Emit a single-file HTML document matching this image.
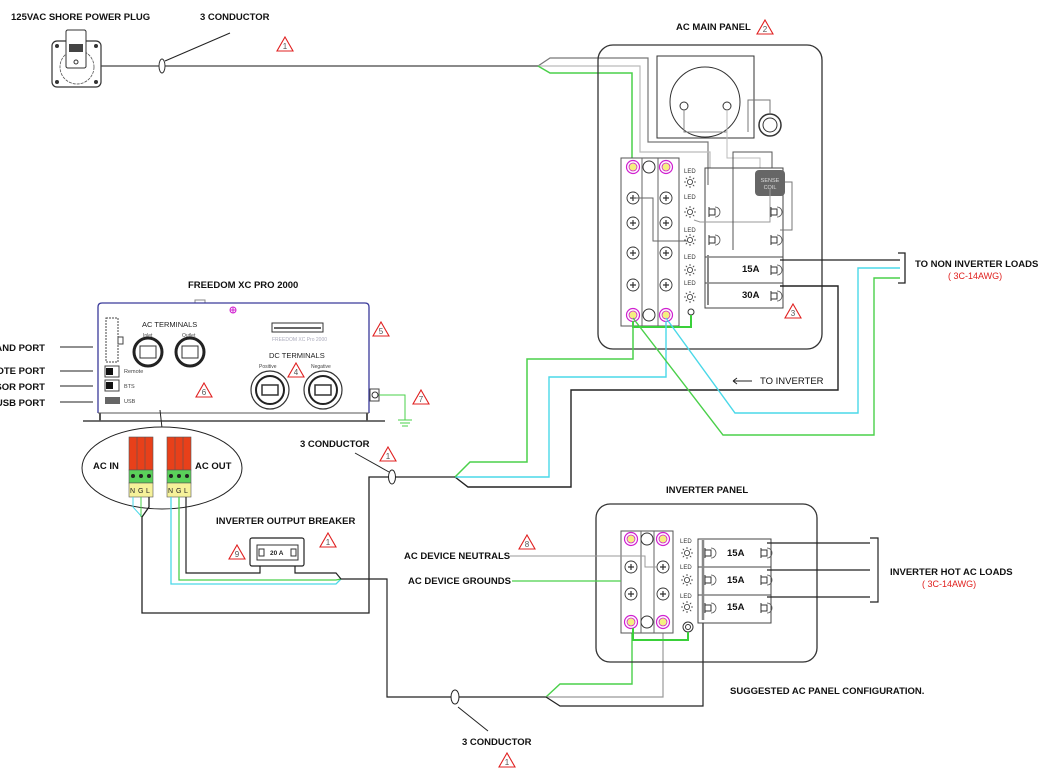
<!DOCTYPE html>
<html><head><meta charset="utf-8"><style>
html,body{margin:0;padding:0;background:#fff;}
svg{display:block;}
text{font-family:"Liberation Sans",Arial,sans-serif;}
.b{font-weight:bold;font-size:9.5px;fill:#111;}
.s{font-size:6px;fill:#333;}
.r{font-size:9px;fill:#e0201e;}
.tri polygon{fill:#fff;stroke:#e02020;stroke-width:1.1;}
.tri text{font-size:8px;fill:#555;text-anchor:middle;}
</style></head><body>
<svg width="1042" height="773" viewBox="0 0 1042 773" xmlns="http://www.w3.org/2000/svg">
<defs>
<g id="sun"><circle r="2.6" fill="none" stroke="#333" stroke-width="0.8"/>
<path d="M0,-6V-4M0,4V6M-6,0H-4M4,0H6M-4.2,-4.2L-2.9,-2.9M2.9,2.9L4.2,4.2M-4.2,4.2L-2.9,2.9M2.9,-2.9L4.2,-4.2" stroke="#333" stroke-width="0.8"/></g>
<g id="pink"><circle r="6.5" fill="#fff" stroke="#d020d0" stroke-width="1.2"/><circle r="4" fill="#f4f080" stroke="#d020d0" stroke-width="0.8"/></g>
<g id="screw"><circle r="6" fill="#fff" stroke="#333" stroke-width="0.9"/><path d="M-3,0H3M0,-3V3" stroke="#333" stroke-width="1.2"/></g>
<g id="brk"><path d="M-4,-5V5M-4,-3H2V3H-4" fill="none" stroke="#333" stroke-width="1"/><path d="M2,-5A5,5 0 0 1 2,5" fill="none" stroke="#555" stroke-width="0.8"/></g>
</defs>

<!-- texts top -->
<text class="b" x="11" y="20">125VAC  SHORE POWER PLUG</text>
<text class="b" x="200" y="20">3 CONDUCTOR</text>
<text class="b" x="676" y="30">AC MAIN PANEL</text>

<!-- shore plug -->
<rect x="52" y="41" width="49" height="46" rx="5" fill="#fff" stroke="#333" stroke-width="1.2"/>
<rect x="66" y="30" width="20" height="38" rx="2" fill="#fff" stroke="#333" stroke-width="1"/>
<circle cx="77" cy="67" r="17" fill="none" stroke="#555" stroke-width="0.8" stroke-dasharray="3,1"/>
<rect x="66" y="30" width="20" height="38" rx="2" fill="#fff" stroke="#333" stroke-width="1"/>
<rect x="69" y="44" width="14" height="8" fill="#444"/>
<circle cx="76" cy="62" r="2" fill="none" stroke="#333"/>
<circle cx="57" cy="46" r="2" fill="#333"/><circle cx="96" cy="46" r="2" fill="#333"/>
<circle cx="57" cy="82" r="2" fill="#333"/><circle cx="96" cy="82" r="2" fill="#333"/>

<!-- top cable -->
<path d="M101,66H538" stroke="#444" stroke-width="1.3" fill="none"/>
<ellipse cx="162" cy="66" rx="3" ry="7" fill="#fff" stroke="#333"/>
<path d="M165,61L230,33" stroke="#222" stroke-width="1"/>
<path d="M538,66L550,58H648V142H708V185" stroke="#777" stroke-width="1.2" fill="none"/>
<path d="M538,66H640V152H710V168" stroke="#bbb" stroke-width="1.2" fill="none"/>
<path d="M538,66L550,73H632V160" stroke="#4ad04a" stroke-width="1.5" fill="none"/>

<!-- main panel -->
<rect x="598" y="45" width="224" height="304" rx="15" fill="none" stroke="#333" stroke-width="1.3"/>
<rect x="657" y="56" width="97" height="82" fill="none" stroke="#333" stroke-width="1"/>
<circle cx="705" cy="102" r="35" fill="none" stroke="#333"/>
<circle cx="684" cy="106" r="4" fill="#fff" stroke="#333"/><circle cx="727" cy="106" r="4" fill="#fff" stroke="#333"/>
<path d="M684,110V132H727V110" fill="none" stroke="#888"/>
<path d="M727,110V158H760V168" fill="none" stroke="#bbb"/>
<path d="M748,132V100H770V113" fill="none" stroke="#777"/>
<circle cx="770" cy="125" r="11" fill="#fff" stroke="#333" stroke-width="1.5"/>
<circle cx="770" cy="125" r="7" fill="none" stroke="#333"/>
<!-- terminal block main -->
<rect x="621" y="158" width="58" height="168" fill="#fff" stroke="#555"/>
<line x1="642" y1="158" x2="642" y2="326" stroke="#666"/><line x1="658" y1="158" x2="658" y2="326" stroke="#666"/>
<use href="#pink" x="633" y="167"/><use href="#pink" x="666" y="167"/>
<circle cx="649" cy="167" r="6" fill="#fff" stroke="#333"/>
<use href="#screw" x="633" y="198"/><use href="#screw" x="666" y="198"/>
<use href="#screw" x="633" y="223"/><use href="#screw" x="666" y="223"/>
<use href="#screw" x="633" y="253"/><use href="#screw" x="666" y="253"/>
<use href="#screw" x="633" y="285"/><use href="#screw" x="666" y="285"/>
<use href="#pink" x="633" y="315"/><use href="#pink" x="666" y="315"/>
<circle cx="649" cy="315" r="6" fill="#fff" stroke="#333"/>
<circle cx="691" cy="312" r="3" fill="#fff" stroke="#333"/>
<path d="M633,321V327H691V315" stroke="#3ad03a" stroke-width="2" fill="none"/>
<path d="M633,198H653V241H688" stroke="#666" fill="none"/>
<g class="s"><text x="684" y="173">LED</text><text x="684" y="199">LED</text><text x="684" y="232">LED</text><text x="684" y="259">LED</text><text x="684" y="285">LED</text></g>
<use href="#sun" x="690" y="182"/><use href="#sun" x="690" y="212"/><use href="#sun" x="690" y="240"/><use href="#sun" x="690" y="270"/><use href="#sun" x="690" y="297"/>
<!-- breakers main -->
<rect x="705" y="168" width="78" height="140" fill="none" stroke="#444"/>
<line x1="705" y1="257" x2="783" y2="257" stroke="#444"/><line x1="705" y1="283" x2="783" y2="283" stroke="#444"/>
<line x1="708" y1="255" x2="708" y2="305" stroke="#888" stroke-width="2"/>
<rect x="755" y="170" width="30" height="26" rx="4" fill="#666"/>
<text x="770" y="182" font-size="5.5" fill="#ddd" text-anchor="middle">SENSE</text>
<text x="770" y="189" font-size="5.5" fill="#ddd" text-anchor="middle">COIL</text>
<use href="#brk" x="713" y="212"/><use href="#brk" x="775" y="212"/>
<use href="#brk" x="713" y="240"/><use href="#brk" x="775" y="240"/>
<use href="#brk" x="775" y="270"/><use href="#brk" x="775" y="296"/>
<path d="M694,220L700,222H770V188" stroke="#999" fill="none"/>
<path d="M785,182H792V230H780" stroke="#777" fill="none"/>
<path d="M733,250V152H772V168" stroke="#555" fill="none"/>
<text class="b" x="742" y="272" font-size="8">15A</text>
<text class="b" x="742" y="298" font-size="8">30A</text>
<path d="M780,260H900" stroke="#222" stroke-width="1.3" fill="none"/>
<path d="M780,286H838V390H571V487H468L455,477" stroke="#222" stroke-width="1.4" fill="none"/>
<path d="M666,321V377H549V477H455" stroke="#4ad8e8" stroke-width="1.4" fill="none"/>
<path d="M633,321V359H527V462H470L455,477" stroke="#4ad04a" stroke-width="1.5" fill="none"/>
<path d="M633,318L723,435H874V278H900" stroke="#4ad04a" stroke-width="1.4" fill="none"/>
<path d="M666,318L735,413H858V268H900" stroke="#4ad8e8" stroke-width="1.4" fill="none"/>
<path d="M898,253H905V283H898" stroke="#222" stroke-width="1.3" fill="none"/>
<text class="b" x="915" y="267">TO NON INVERTER LOADS</text>
<text class="r" x="948" y="279">( 3C-14AWG)</text>
<path d="M733,381H752M733,381L737,378M733,381L737,384" stroke="#222" fill="none"/>
<text class="b" x="760" y="384" style="font-weight:normal">TO INVERTER</text>

<!-- inverter -->
<text class="b" x="188" y="288">FREEDOM XC PRO 2000</text>
<rect x="195" y="300" width="10" height="4" fill="#fff" stroke="#888"/>
<path d="M98,413V307Q98,303 102,303H365Q369,303 369,307V413" fill="#fff" stroke="#3a3a9a" stroke-width="1.3"/>
<line x1="83" y1="421" x2="385" y2="421" stroke="#444" stroke-width="1.5"/>
<line x1="98" y1="413" x2="369" y2="413" stroke="#555"/>
<path d="M100,413V421M367,413V421" stroke="#555" stroke-width="2"/>
<circle cx="233" cy="310" r="3" fill="none" stroke="#d020d0"/><path d="M230,310H236M233,307V313" stroke="#d020d0"/>
<rect x="106" y="318" width="12" height="44" fill="#fff" stroke="#444" stroke-dasharray="2,1"/>
<rect x="118" y="337" width="5" height="7" fill="none" stroke="#444"/>
<rect x="105" y="366" width="14" height="11" fill="#fff" stroke="#444"/><rect x="106" y="368" width="7" height="7" fill="#111"/>
<rect x="105" y="380" width="14" height="11" fill="#fff" stroke="#444"/><rect x="106" y="382" width="7" height="7" fill="#111"/>
<rect x="105" y="397" width="15" height="7" fill="#666"/>
<text x="124" y="373" font-size="5.5" fill="#444">Remote</text>
<text x="124" y="388" font-size="5.5" fill="#444">BTS</text>
<text x="124" y="403" font-size="5.5" fill="#444">USB</text>
<text x="142" y="327" font-size="7.5" fill="#222">AC TERMINALS</text>
<text x="143" y="337" font-size="5" fill="#444">Inlet</text><text x="182" y="337" font-size="5" fill="#444">Outlet</text>
<circle cx="148" cy="352" r="14" fill="#fff" stroke="#222" stroke-width="3"/><rect x="140" y="346" width="16" height="12" fill="#fff" stroke="#333"/>
<circle cx="190" cy="352" r="14" fill="#fff" stroke="#222" stroke-width="3"/><rect x="182" y="346" width="16" height="12" fill="#fff" stroke="#333"/>
<rect x="272" y="323" width="51" height="9" fill="#fff" stroke="#333"/><line x1="274" y1="328" x2="321" y2="328" stroke="#333" stroke-width="1.5"/>
<text x="272" y="341" font-size="5" fill="#aab">FREEDOM XC Pro 2000</text>
<text x="269" y="358" font-size="7.5" fill="#222">DC TERMINALS</text>
<text x="259" y="368" font-size="5" fill="#444">Positive</text><text x="311" y="368" font-size="5" fill="#444">Negative</text>
<circle cx="270" cy="390" r="19" fill="#fff" stroke="#333" stroke-width="1.2"/><circle cx="270" cy="390" r="14" fill="none" stroke="#222" stroke-width="2"/><rect x="262" y="385" width="16" height="10" fill="#fff" stroke="#333" stroke-width="1.5"/>
<circle cx="323" cy="390" r="19" fill="#fff" stroke="#333" stroke-width="1.2"/><circle cx="323" cy="390" r="14" fill="none" stroke="#222" stroke-width="2"/><rect x="315" y="385" width="16" height="10" fill="#fff" stroke="#333" stroke-width="1.5"/>
<rect x="370" y="389" width="9" height="12" fill="#fff" stroke="#444"/><circle cx="375" cy="395" r="3" fill="none" stroke="#333"/>
<path d="M379,395H405V420" stroke="#4ad04a" fill="none"/>
<path d="M398,420H412M400,423H410M402,426H408" stroke="#4ad04a" fill="none"/>
<path d="M160,410L162,428" stroke="#222"/>
<!-- ports -->
<g class="b"><text x="45" y="351" text-anchor="end">AND PORT</text><text x="45" y="374" text-anchor="end">OTE PORT</text><text x="45" y="390" text-anchor="end">SOR PORT</text><text x="45" y="406" text-anchor="end">USB PORT</text></g>
<path d="M60,347H93M60,371H93M60,386H93M60,402H93" stroke="#222" stroke-width="1"/>

<!-- ellipse AC in/out -->
<ellipse cx="162" cy="468" rx="80" ry="41" fill="#fff" stroke="#222" stroke-width="1"/>
<text class="b" x="93" y="469">AC IN</text><text class="b" x="195" y="469">AC OUT</text>
<g stroke="#555" stroke-width="0.6">
<rect x="129" y="437" width="24" height="33" fill="#e8401a"/><line x1="137" y1="437" x2="137" y2="470"/><line x1="145" y1="437" x2="145" y2="470"/>
<rect x="129" y="470" width="24" height="13" fill="#5ad05a"/><rect x="129" y="483" width="24" height="14" fill="#f6f29a"/>
<rect x="167" y="437" width="24" height="33" fill="#e8401a"/><line x1="175" y1="437" x2="175" y2="470"/><line x1="183" y1="437" x2="183" y2="470"/>
<rect x="167" y="470" width="24" height="13" fill="#5ad05a"/><rect x="167" y="483" width="24" height="14" fill="#f6f29a"/>
</g>
<g fill="#222"><circle cx="133" cy="476" r="2"/><circle cx="141" cy="476" r="2"/><circle cx="149" cy="476" r="2"/><circle cx="171" cy="476" r="2"/><circle cx="179" cy="476" r="2"/><circle cx="187" cy="476" r="2"/></g>
<g font-size="7" fill="#222"><text x="130" y="493">N</text><text x="138" y="493">G</text><text x="146" y="493">L</text><text x="168" y="493">N</text><text x="176" y="493">G</text><text x="184" y="493">L</text></g>
<path d="M133,497V507L142,517" stroke="#4ad8e8" fill="none"/>
<path d="M141,497V517" stroke="#4ad04a" fill="none"/>
<path d="M149,497V507L142,517V613H369V477H455" stroke="#222" stroke-width="1.3" fill="none"/>
<ellipse cx="392" cy="477" rx="3.5" ry="7" fill="#fff" stroke="#222"/>
<path d="M355,453L389,472" stroke="#222"/>
<text class="b" x="300" y="447">3 CONDUCTOR</text>
<path d="M171,497V584H336L341,579" stroke="#4ad8e8" stroke-width="1.3" fill="none"/>
<path d="M179,497V580H336L341,579" stroke="#4ad04a" stroke-width="1.3" fill="none"/>
<path d="M186,497V573H260V553" stroke="#222" stroke-width="1.2" fill="none"/>
<path d="M295,553V573H336L341,579H387V697H546" stroke="#222" stroke-width="1.2" fill="none"/>
<text class="b" x="216" y="524">INVERTER OUTPUT BREAKER</text>
<rect x="250" y="538" width="54" height="28" rx="2" fill="#fff" stroke="#222" stroke-width="1.2"/>
<rect x="257" y="545" width="41" height="15" fill="#fff" stroke="#333"/>
<text x="270" y="555" font-size="6.5" font-weight="bold" fill="#222">20 A</text>
<rect x="259" y="549" width="5" height="7" fill="none" stroke="#333"/><rect x="291" y="549" width="5" height="7" fill="none" stroke="#333"/>

<!-- bottom cable -->
<ellipse cx="455" cy="697" rx="4" ry="7" fill="#fff" stroke="#222"/>
<path d="M458,707L488,731" stroke="#222"/>
<text class="b" x="462" y="745">3 CONDUCTOR</text>
<path d="M546,697L560,684H632V632" stroke="#4ad04a" stroke-width="1.4" fill="none"/>
<path d="M546,697H663V630" stroke="#999" stroke-width="1.2" fill="none"/>
<path d="M546,697L560,706H703V540" stroke="#222" stroke-width="1.2" fill="none"/>

<!-- inverter panel -->
<text class="b" x="666" y="493">INVERTER PANEL</text>
<rect x="596" y="504" width="221" height="158" rx="14" fill="none" stroke="#333" stroke-width="1.3"/>
<rect x="621" y="531" width="52" height="102" fill="#fff" stroke="#555"/>
<line x1="641" y1="531" x2="641" y2="633" stroke="#666"/><line x1="654" y1="531" x2="654" y2="633" stroke="#666"/>
<use href="#pink" x="631" y="539"/><use href="#pink" x="663" y="539"/><circle cx="647" cy="539" r="6" fill="#fff" stroke="#333"/>
<use href="#screw" x="631" y="567"/><use href="#screw" x="663" y="567"/>
<use href="#screw" x="631" y="594"/><use href="#screw" x="663" y="594"/>
<use href="#pink" x="631" y="622"/><use href="#pink" x="663" y="622"/><circle cx="647" cy="622" r="6" fill="#fff" stroke="#333"/>
<circle cx="688" cy="627" r="5" fill="#fff" stroke="#333"/><circle cx="688" cy="627" r="2.5" fill="none" stroke="#333"/>
<path d="M633,628V640H688V632" stroke="#3ad03a" stroke-width="2" fill="none"/>
<g class="s"><text x="680" y="543">LED</text><text x="680" y="569">LED</text><text x="680" y="598">LED</text></g>
<use href="#sun" x="687" y="553"/><use href="#sun" x="687" y="580"/><use href="#sun" x="687" y="607"/>
<rect x="698" y="539" width="73" height="84" fill="#fff" stroke="#444"/>
<line x1="698" y1="567" x2="771" y2="567" stroke="#444"/><line x1="698" y1="595" x2="771" y2="595" stroke="#444"/>
<line x1="703" y1="540" x2="703" y2="620" stroke="#888" stroke-width="2.5"/>
<use href="#brk" x="709" y="553"/><use href="#brk" x="765" y="553"/>
<use href="#brk" x="709" y="580"/><use href="#brk" x="765" y="580"/>
<use href="#brk" x="709" y="608"/><use href="#brk" x="765" y="608"/>
<g class="b" font-size="8"><text x="727" y="556">15A</text><text x="727" y="583">15A</text><text x="727" y="610">15A</text></g>
<path d="M767,543H870M767,570H870M767,597H870" stroke="#222" stroke-width="1.2"/>
<path d="M870,538H878V602H870" stroke="#222" stroke-width="1.2" fill="none"/>
<text class="b" x="890" y="575">INVERTER HOT AC LOADS</text>
<text class="r" x="922" y="587">( 3C-14AWG)</text>
<text class="b" x="404" y="559">AC DEVICE NEUTRALS</text>
<text class="b" x="408" y="584">AC DEVICE GROUNDS</text>
<path d="M510,556H645V567H657" stroke="#999" fill="none"/>
<path d="M512,581H621" stroke="#4ad04a" stroke-width="1.3" fill="none"/>
<text class="b" x="730" y="694">SUGGESTED AC PANEL CONFIGURATION.</text>

<!-- triangles -->
<g class="tri">
<g transform="translate(285,45)"><polygon points="0,-8 8,6 -8,6"/><text y="4">1</text></g>
<g transform="translate(765,28)"><polygon points="0,-8 8,6 -8,6"/><text y="4">2</text></g>
<g transform="translate(793,312)"><polygon points="0,-8 8,6 -8,6"/><text y="4">3</text></g>
<g transform="translate(296,371)"><polygon points="0,-8 8,6 -8,6"/><text y="4">4</text></g>
<g transform="translate(381,330)"><polygon points="0,-8 8,6 -8,6"/><text y="4">5</text></g>
<g transform="translate(204,391)"><polygon points="0,-8 8,6 -8,6"/><text y="4">6</text></g>
<g transform="translate(421,398)"><polygon points="0,-8 8,6 -8,6"/><text y="4">7</text></g>
<g transform="translate(388,455)"><polygon points="0,-8 8,6 -8,6"/><text y="4">1</text></g>
<g transform="translate(328,541)"><polygon points="0,-8 8,6 -8,6"/><text y="4">1</text></g>
<g transform="translate(237,553)"><polygon points="0,-8 8,6 -8,6"/><text y="4">9</text></g>
<g transform="translate(527,543)"><polygon points="0,-8 8,6 -8,6"/><text y="4">8</text></g>
<g transform="translate(507,761)"><polygon points="0,-8 8,6 -8,6"/><text y="4">1</text></g>
</g>
</svg>
</body></html>
